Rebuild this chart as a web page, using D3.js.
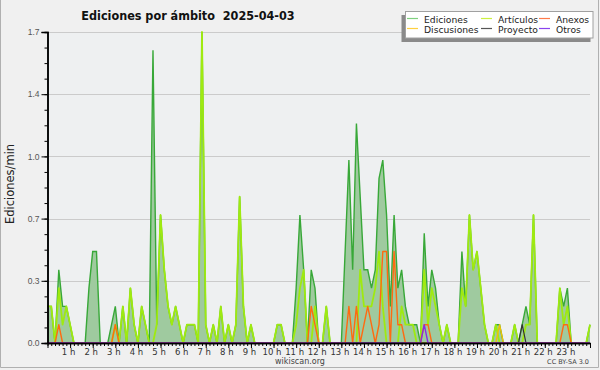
<!DOCTYPE html>
<html><head><meta charset="utf-8">
<script src="https://cdn.jsdelivr.net/npm/d3@7/dist/d3.min.js"></script>
<style>body{margin:0;background:#f0f0f0}svg{display:block}</style>
</head><body><svg id="c" width="600" height="370"></svg>
<script>
// 10-minute bins, 00:00 .. 24:00 (145 points), values in edits/min
const ediciones = [
 .2,.2,0,.4,.2,.2,.1,0,0,0,0,.3,
 .5,.5,0,0,0,.1,.2,0,.2,0,.3,.1,
 0,.2,.1,0,1.6,.1,.7,.4,.2,.1,.2,.1,
 0,.1,.1,.1,0,1.7,.1,0,.1,0,.2,0,
 .1,0,.1,.8,.2,0,.1,0,0,0,0,0,
 0,.1,.1,0,0,0,.3,.7,.4,0,.4,.3,
 0,0,.2,0,0,0,0,.5,1.0,.4,1.2,.8,
 .4,.4,.3,.4,.9,1.0,.7,.2,.7,.3,.4,.2,
 .1,.1,.1,0,.6,.2,.4,.3,.1,0,.1,0,
 0,0,.5,.2,.7,.4,.5,.3,.1,0,0,.1,
 .1,0,0,0,.1,0,.1,.2,.1,.7,0,0,
 0,0,0,0,.3,.2,.3,0,0,0,0,0,
 .1];
const articulos = [
 .2,.2,0,.3,.1,.2,.1,0,0,0,0,0,
 0,0,0,0,0,0,.1,0,.2,0,.3,.1,
 0,.2,.1,0,0,.1,.7,.4,.2,.1,.2,.1,
 0,.1,.1,.1,0,1.7,.1,0,.1,0,.2,0,
 .1,0,.1,.8,.2,0,.1,0,0,0,0,0,
 0,.1,.1,0,0,0,.1,.3,.4,0,0,.2,
 0,0,.2,0,0,0,0,0,0,0,0,.4,
 .2,.2,.2,.3,.5,.2,0,0,0,0,.2,.1,
 .1,.1,0,0,.4,.1,.3,.2,.1,0,.1,0,
 0,0,.3,.2,.7,.4,.5,.3,.1,0,0,.1,
 0,0,0,0,.1,0,0,.1,.1,.7,0,0,
 0,0,0,0,.3,.1,.2,0,0,0,0,0,
 .1];
const anexos = [
 0,0,0,.1,0,0,0,0,0,0,0,0,
 0,0,0,0,0,0,.1,0,0,0,0,0,
 0,0,0,0,0,0,0,0,0,0,0,0,
 0,0,0,0,0,0,0,0,0,0,0,0,
 0,0,0,0,0,0,0,0,0,0,0,0,
 0,0,0,0,0,0,0,0,0,0,.2,.1,
 0,0,0,0,0,0,0,0,.2,0,.2,0,
 .1,.2,.1,0,.1,.5,.5,0,.5,.1,.1,0,
 0,0,0,0,.1,.1,0,0,0,0,0,0,
 0,0,0,0,0,0,0,0,0,0,0,0,
 0,0,0,0,0,0,0,0,0,0,0,0,
 0,0,0,0,0,.1,.1,0,0,0,0,0,
 0];
const discusiones = Array.from({length:145},(_, i) => i === 120 ? .1 : 0);
const proyecto    = Array.from({length:145},(_, i) => i === 126 ? .1 : 0);
const otros       = Array.from({length:145},(_, i) => i === 100 ? .1 : 0);

const hourLabels = ["","1 h","2 h","3 h","4 h","5 h","6 h","7 h","8 h","9 h","10 h","11 h","12 h",
  "13 h","14 h","15 h","16 h","17 h","18 h","19 h","20 h","21 h","22 h","23 h",""];
const yTicks = [0, 0.34, 0.68, 1.02, 1.36, 1.7];
const yTickLabels = ["0.0","0.3","0.7","1.0","1.4","1.7"];
const legendNames = ["Ediciones","Artículos","Anexos","Discusiones","Proyecto","Otros"];

const lineColors = {Ediciones:"#38a838", Artículos:"#9fea10", Anexos:"#ff6a10", Discusiones:"#f2c200", Proyecto:"#333333", Otros:"#8a2be2"};
const legColors  = {Ediciones:"#7fd07f", Artículos:"#ccf040", Anexos:"#ff7a4a", Discusiones:"#ffd040", Proyecto:"#555555", Otros:"#8a44ee"};

const svg = d3.select("#c");
const L = 47.5, R = 590, T = 32, B = 343;
const x = d3.scaleLinear().domain([0, 1440]).range([L, R]);
const y = d3.scaleLinear().domain([0, 1.7]).range([B, T]);
const minutes = i => i * 10;

// frame
svg.append("rect").attr("x",0).attr("y",0).attr("width",600).attr("height",370).attr("fill","#f0f0f0");
svg.append("path").attr("d","M0.5,0V367.5H598.5V0").attr("fill","none").attr("stroke","#b0b0b0");
svg.append("rect").attr("x",L).attr("y",T).attr("width",R-L).attr("height",B-T).attr("fill","#eef0f1");

// grid
svg.append("g").selectAll("line").data(yTicks.slice(1)).join("line")
  .attr("x1",L).attr("x2",R).attr("y1",d=>Math.round(y(d))+0.5).attr("y2",d=>Math.round(y(d))+0.5)
  .attr("stroke","#cbcbcb").attr("stroke-width",1);

// series
const area = d3.area().x((d,i)=>x(minutes(i))).y0(y(0)).y1(d=>y(d));
const line = d3.line().x((d,i)=>x(minutes(i))).y(d=>y(d));
svg.append("path").datum(ediciones).attr("d",area).attr("fill","#9fca9f");
svg.append("path").datum(ediciones).attr("d",line).attr("fill","none").attr("stroke",lineColors.Ediciones).attr("stroke-width",1.4);
const others = [["Artículos",articulos,1.8],["Discusiones",discusiones,1.3],["Proyecto",proyecto,1.2],["Anexos",anexos,1.4],["Otros",otros,1.4]];
others.forEach(([n,arr,w])=>{
  svg.append("path").datum(arr).attr("d",line).attr("fill","none").attr("stroke",lineColors[n]).attr("stroke-width",w).attr("stroke-linejoin","round");
});

// axes
const fontSans = "DejaVu Sans, sans-serif";
const yMinor = d3.range(0, 1.7001, 0.085);
const gyMinor = svg.append("g").attr("transform",`translate(${L},0)`)
  .call(d3.axisLeft(y).tickValues(yMinor).tickSize(3).tickFormat(""));
const gy = svg.append("g").attr("transform",`translate(${L},0)`)
  .call(d3.axisLeft(y).tickValues(yTicks).tickSize(6).tickFormat((d,i)=>yTickLabels[i]).tickPadding(2));
[gyMinor, gy].forEach(g=>{g.select(".domain").attr("stroke","#000").attr("stroke-width",1.5); g.selectAll(".tick line").attr("stroke","#000");});
gy.selectAll("text").attr("font-family","Liberation Sans, sans-serif").attr("font-size",8.5).attr("fill","#555");

const xMinor = d3.range(0, 1441, 10);
const gxMinor = svg.append("g").attr("transform",`translate(0,${B})`)
  .call(d3.axisBottom(x).tickValues(xMinor).tickSize(3).tickFormat("").tickSizeOuter(0));
const gx = svg.append("g").attr("transform",`translate(0,${B})`)
  .call(d3.axisBottom(x).tickValues(d3.range(0,1441,60)).tickSize(5).tickFormat((d,i)=>hourLabels[i]).tickPadding(1).tickSizeOuter(0));
[gxMinor, gx].forEach(g=>{g.select(".domain").attr("stroke","#000").attr("stroke-width",1.5); g.selectAll(".tick line").attr("stroke","#000");});
gx.selectAll("text").attr("font-family",fontSans).attr("font-size",8.5).attr("fill","#333").attr("dx",-2);

// titles
svg.append("text").attr("x",188).attr("y",20).attr("text-anchor","middle")
  .attr("font-family","DejaVu Sans Condensed, DejaVu Sans, sans-serif").attr("font-stretch","condensed")
  .attr("font-weight","bold").attr("font-size",12.5).attr("fill","#111")
  .attr("xml:space","preserve").text("Ediciones por ámbito  2025-04-03");
svg.append("text").attr("transform","translate(14,184) rotate(-90)").attr("text-anchor","middle")
  .attr("font-family",fontSans).attr("font-size",11.5).attr("fill","#222").text("Ediciones/min");
svg.append("text").attr("x",300).attr("y",364).attr("text-anchor","middle")
  .attr("font-family",fontSans).attr("font-size",8).attr("fill","#444").text("wikiscan.org");
svg.append("text").attr("x",589).attr("y",364).attr("text-anchor","end")
  .attr("font-family",fontSans).attr("font-size",6.5).attr("fill","#444").text("CC BY-SA 3.0");

// legend
const lg = svg.append("g");
lg.append("rect").attr("x",401.5).attr("y",15).attr("width",189).attr("height",27).attr("fill","#8a8a8a");
lg.append("rect").attr("x",405.5).attr("y",11.5).attr("width",187.5).attr("height",26.5).attr("fill","#fff").attr("stroke","#a0a0a0");
const colX = [407, 481, 539];
const rowY = [18.5, 28.5];
legendNames.forEach((n,i)=>{
  const c = i % 3, r = Math.floor(i / 3);
  lg.append("line").attr("x1",colX[c]).attr("x2",colX[c]+11).attr("y1",rowY[r]).attr("y2",rowY[r])
    .attr("stroke",legColors[n]).attr("stroke-width",1.2);
  lg.append("text").attr("x",colX[c]+17).attr("y",rowY[r]+4).attr("font-family",fontSans)
    .attr("font-size",9.2).attr("fill","#222").text(n);
});
</script></body></html>
